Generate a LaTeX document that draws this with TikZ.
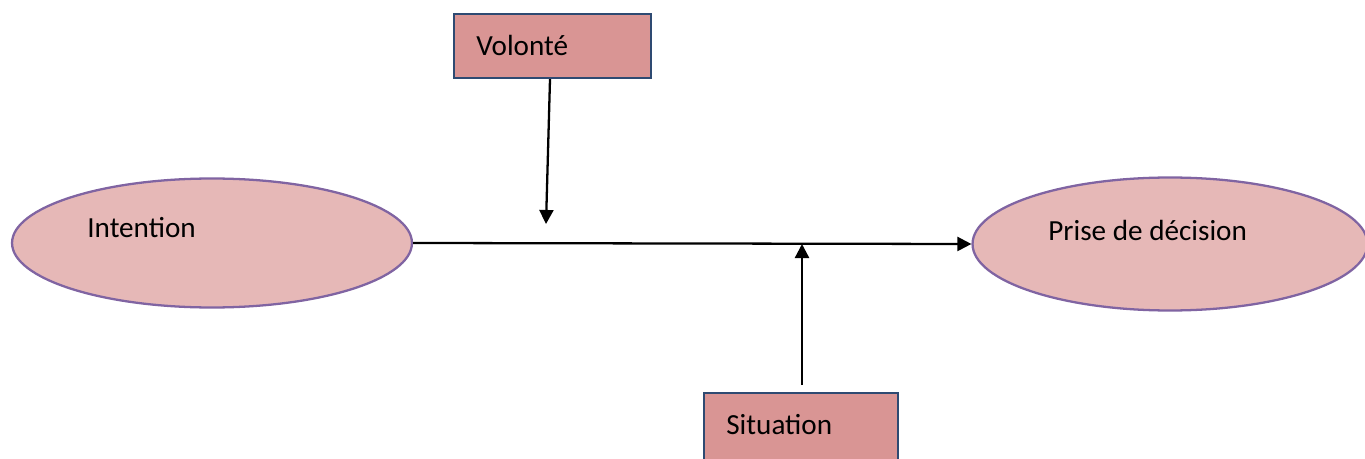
\documentclass[tikz,border=0pt]{standalone}
\usepackage{fontspec}
\setmainfont{Carlito}
\usetikzlibrary{arrows.meta,shapes.geometric}
\definecolor{boxfill}{HTML}{D99594}
\definecolor{boxline}{HTML}{2E4A72}
\definecolor{ovalfill}{HTML}{E6B8B7}
\definecolor{ovalline}{HTML}{8064A2}
\tikzset{
  factor/.style={draw=boxline, line width=1.3pt, fill=boxfill, rectangle, inner sep=0pt},
  stage/.style={draw=ovalline, line width=1.3pt, fill=ovalfill, ellipse, inner sep=0pt},
  lbl/.style={anchor=west, inner sep=0pt, font=\fontsize{16.6}{19}\selectfont},
  link/.style={line width=1.3pt, -{Triangle[length=8pt,width=8pt]}}
}
\begin{document}
\begin{tikzpicture}[x=0.02cm,y=-0.02cm]
\useasboundingbox (0,0) rectangle (1365,459);
% the two stages
\node[stage, minimum width=8cm, minimum height=2.58cm] (int) at (212,243) {};
\node[stage, minimum width=7.9cm, minimum height=2.66cm] (dec) at (1170,244) {};
\node[lbl] (intT) at (87,228) {Intention};
\node[lbl] (decT) at (1048,230) {Prise de décision};
% the two factors
\node[factor, minimum width=3.94cm, minimum height=1.28cm] (vol) at (552.5,46) {};
\node[lbl] (volT) at (476,45) {Volonté};
\node[factor, minimum width=3.88cm, minimum height=1.6cm] (sit) at (801,433) {};
\node[lbl] (sitT) at (726,425) {Situation};
% connectors
\coordinate (vEnd) at (546,224);
\coordinate (sStart) at (802,385);
\coordinate (sEnd) at (802,244);
\draw[link] (int.east) -- (dec.west);
\draw[link] (vol.south -| 550,0) -- (vEnd);
\draw[link] (sStart) -- (sEnd);
\end{tikzpicture}
\end{document}
